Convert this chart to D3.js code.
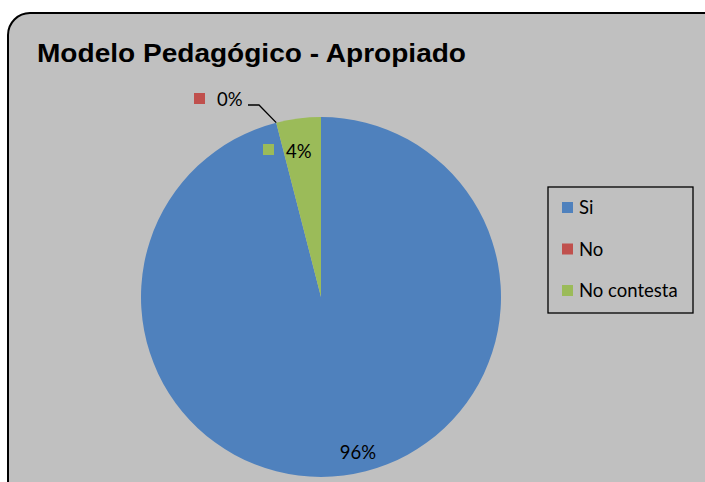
<!DOCTYPE html>
<html>
<head>
<meta charset="utf-8">
<script src="https://cdn.jsdelivr.net/npm/d3@7"></script>
<style>
  html, body { margin: 0; padding: 0; background: #fff; }
  svg { display: block; }
</style>
</head>
<body>
<script>
// datos del gráfico
const categories = ["Si", "No", "No contesta"];
const values = [96, 0, 4];
const labels = ["96%", "0%", "4%"];
const colors = ["#4F81BD", "#C0504D", "#9BBB59"];

const width = 705, height = 482;
const svg = d3.select("body").append("svg")
    .attr("width", width)
    .attr("height", height);

// marco del gráfico
svg.append("rect")
    .attr("x", 8).attr("y", 13)
    .attr("width", 730).attr("height", 500)
    .attr("rx", 22).attr("ry", 22)
    .attr("fill", "#C0C0C0")
    .attr("stroke", "#000")
    .attr("stroke-width", 2);

svg.append("text")
    .attr("x", 37).attr("y", 62)
    .attr("font-family", "Liberation Sans, Arial, sans-serif")
    .attr("font-weight", "bold")
    .attr("font-size", 26)
    .attr("textLength", 429)
    .attr("lengthAdjust", "spacingAndGlyphs")
    .attr("fill", "#000")
    .text("Modelo Pedagógico - Apropiado");

const cx = 321, cy = 297, r = 180;
const pie = d3.pie().sort(null).value(d => d)(values);
const arc = d3.arc().innerRadius(0).outerRadius(r);

const g = svg.append("g").attr("transform", `translate(${cx},${cy})`);
g.selectAll("path")
    .data(pie)
    .join("path")
    .attr("d", arc)
    .attr("fill", (d, i) => colors[i]);

const labelFont = "Lato, 'Open Sans', sans-serif";
const fs = 18.5;

// 96% dentro del sector
svg.append("text")
    .attr("x", 358).attr("y", 459)
    .attr("text-anchor", "middle")
    .attr("font-family", labelFont)
    .attr("font-size", fs)
    .text(labels[0]);

// 0% con línea guía
const edge = d3.arc().innerRadius(r).outerRadius(r).centroid(pie[1]);
svg.append("path")
    .attr("d", `M${cx + edge[0]},${cy + edge[1]} L259,105 L248,105`)
    .attr("fill", "none")
    .attr("stroke", "#000")
    .attr("stroke-width", 1.3);
svg.append("rect")
    .attr("x", 194).attr("y", 93)
    .attr("width", 11).attr("height", 11)
    .attr("fill", colors[1]);
svg.append("text")
    .attr("x", 217).attr("y", 106)
    .attr("font-family", labelFont)
    .attr("font-size", fs)
    .text(labels[1]);

// 4%
svg.append("rect")
    .attr("x", 263).attr("y", 144)
    .attr("width", 11).attr("height", 11)
    .attr("fill", colors[2]);
svg.append("text")
    .attr("x", 286).attr("y", 158)
    .attr("font-family", labelFont)
    .attr("font-size", fs)
    .text(labels[2]);

// leyenda
svg.append("rect")
    .attr("x", 548).attr("y", 187)
    .attr("width", 145).attr("height", 126)
    .attr("fill", "none")
    .attr("stroke", "#000")
    .attr("stroke-width", 1.3);

const leg = svg.selectAll("g.leg")
    .data(categories)
    .join("g")
    .attr("class", "leg")
    .attr("transform", (d, i) => `translate(562,${208 + i * 41.5})`);
leg.append("rect")
    .attr("y", -6)
    .attr("width", 11).attr("height", 11)
    .attr("fill", (d, i) => colors[i]);
leg.append("text")
    .attr("x", 17).attr("y", 6)
    .attr("font-family", labelFont)
    .attr("font-size", fs)
    .text(d => d);
</script>
</body>
</html>
